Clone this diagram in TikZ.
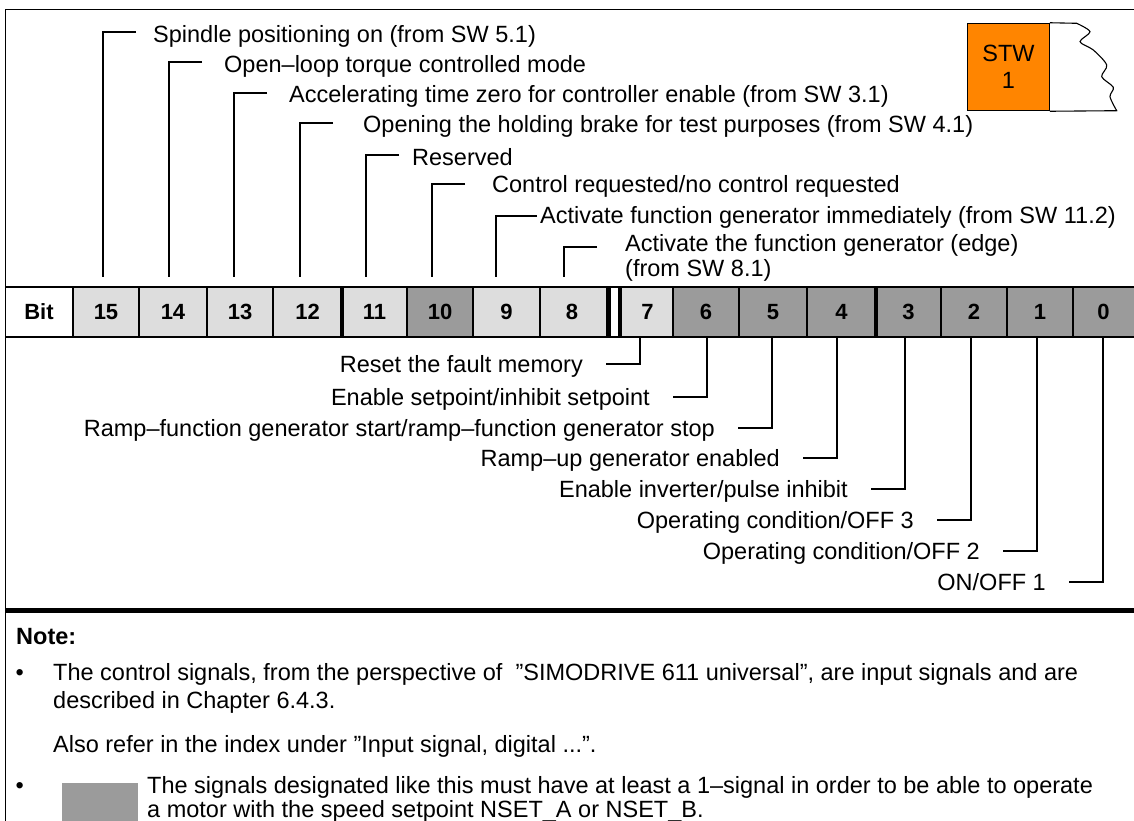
\documentclass[tikz,border=0pt]{standalone}
\usepackage{fontspec}
\setmainfont{Liberation Sans}
\usetikzlibrary{positioning,calc}
\definecolor{lite}{RGB}{221,221,221}
\definecolor{dark}{RGB}{155,155,155}
\definecolor{stwor}{RGB}{255,133,0}

\begin{document}
\begin{tikzpicture}[x=1pt,y=-1pt,
    txt/.style={inner sep=0pt,anchor=base west,font=\fontsize{23.5}{28}\selectfont},
    txr/.style={txt,anchor=base east},
    num/.style={inner sep=0pt,font=\fontsize{22}{26}\selectfont\bfseries},
    hook/.style={line width=1.8pt},
    rule/.style={line width=1.1pt},
    heavy/.style={line width=4.5pt}]
  \useasboundingbox (0,0) rectangle (1134,821);
  % frame
  \draw[rule] (1134,9.5) -- (5.5,9.5) -- (5.5,821);
  \draw[line width=5pt] (5.5,610) -- (1134,610);

  % bit row
  \fill[lite] (73,287) rectangle (407,337) (473,287) rectangle (608.7,337) (620,287) rectangle (673,337);
  \fill[dark] (407,287) rectangle (473,337) (673,287) rectangle (1134,337);
  \draw[rule] (5.5,287) -- (1134,287) (5.5,337) -- (1134,337);
  \foreach \x in {73,139,207,273,407,473,540,673,739,807,941,1007,1073}
    \draw[rule] (\x,287) -- (\x,337);
  \foreach \x in {342,608.7,620,876} \draw[heavy] (\x,287) -- (\x,337);
  \node[num] (bit) at (39,312) {Bit};
  \foreach \b/\x in {15/106,14/173,13/240,12/307.5,11/374.5,10/440,9/506.5,8/572,
                     7/647.5,6/706,5/773,4/841.5,3/908.5,2/974,1/1040,0/1103.5}
    \node[num] (c\b) at (\x,312) {\b};

  % upper byte
  \foreach \b/\tk/\tx/\by/\gap/\off/\txt in {
      15/103/153/43/17/11/{Spindle positioning on (from SW 5.1)},
      14/169/224/73/22/11/{Open–loop torque controlled mode},
      13/234/289/103/22/10/{Accelerating time zero for controller enable (from SW 3.1)},
      12/300/363/133/30/10/{Opening the holding brake for test purposes (from SW 4.1)},
      11/366/412/166/13/11/{Reserved},
      10/432/492/193/27/9/{Control requested/no control requested},
      9/496/540/223/3/7/{Activate function generator immediately (from SW 11.2)},
      8/564/625/251/28/4/{Activate the function generator (edge)}}
  {
    \node[txt] (t\b) at (\tx,\by) {\txt};
    \coordinate (f\b) at (\tk,277);
    \draw[hook] ([xshift=-\gap pt,yshift=\off pt]t\b.base west) -| (f\b);
  }
  \node[txt] (t8b) at (625,276) {(from SW 8.1)};

  % lower byte
  \foreach \b/\tk/\hy/\txt in {
      7/640/364/{Reset the fault memory},
      6/707/397/{Enable setpoint/inhibit setpoint},
      5/772/428/{Ramp–function generator start/ramp–function generator stop},
      4/837/458/{Ramp–up generator enabled},
      3/905/489/{Enable inverter/pulse inhibit},
      2/971/520/{Operating condition/OFF 3},
      1/1037/551/{Operating condition/OFF 2},
      0/1103/582/{ON/OFF 1}}
  {
    \node[txr] (u\b) at (\tk-57,\hy+8.5) {\txt};
    \coordinate (g\b) at (\tk,337);
    \draw[hook] ([xshift=23pt,yshift=8.5pt]u\b.base east) -| (g\b);
  }

  % STW 1
  \node[draw,rule,fill=stwor,minimum width=81.6pt,minimum height=87.4pt,inner sep=0pt,
        align=center,font=\fontsize{23.5}{27}\selectfont] (stw) at (1008.5,67) {STW\\1};
  \draw[rule] (stw.north east) -- plot[smooth] coordinates {(1076.7,23.3) (1090,31.7)
      (1080,41.7) (1093.3,50) (1106.7,65) (1101.7,76.7) (1113.3,87.3) (1110,96.7)
      (1116.7,110.7)} -- (stw.south east);

  % note
  \node[txt,font=\fontsize{23.5}{28}\selectfont\bfseries] (note) at (16,644) {Note:};
  \node[txt] (bul1) at (15.5,680) {•};
  \node[txt] (p1a) at (53,680) {The control signals, from the perspective of\ \ ”SIMODRIVE 611 universal”, are input signals and are};
  \node[txt] (p1b) at (53,708) {described in Chapter 6.4.3.};
  \node[txt] (p2) at (53,752) {Also refer in the index under ”Input signal, digital ...”.};
  \node[txt] (bul2) at (15.5,793) {•};
  \fill[dark] (62,783) rectangle (138,821);
  \node[txt] (p3a) at (147,793) {The signals designated like this must have at least a 1–signal in order to be able to operate};
  \node[txt] (p3b) at (147,817) {a motor with the speed setpoint NSET\_A or NSET\_B.};
\end{tikzpicture}
\end{document}
